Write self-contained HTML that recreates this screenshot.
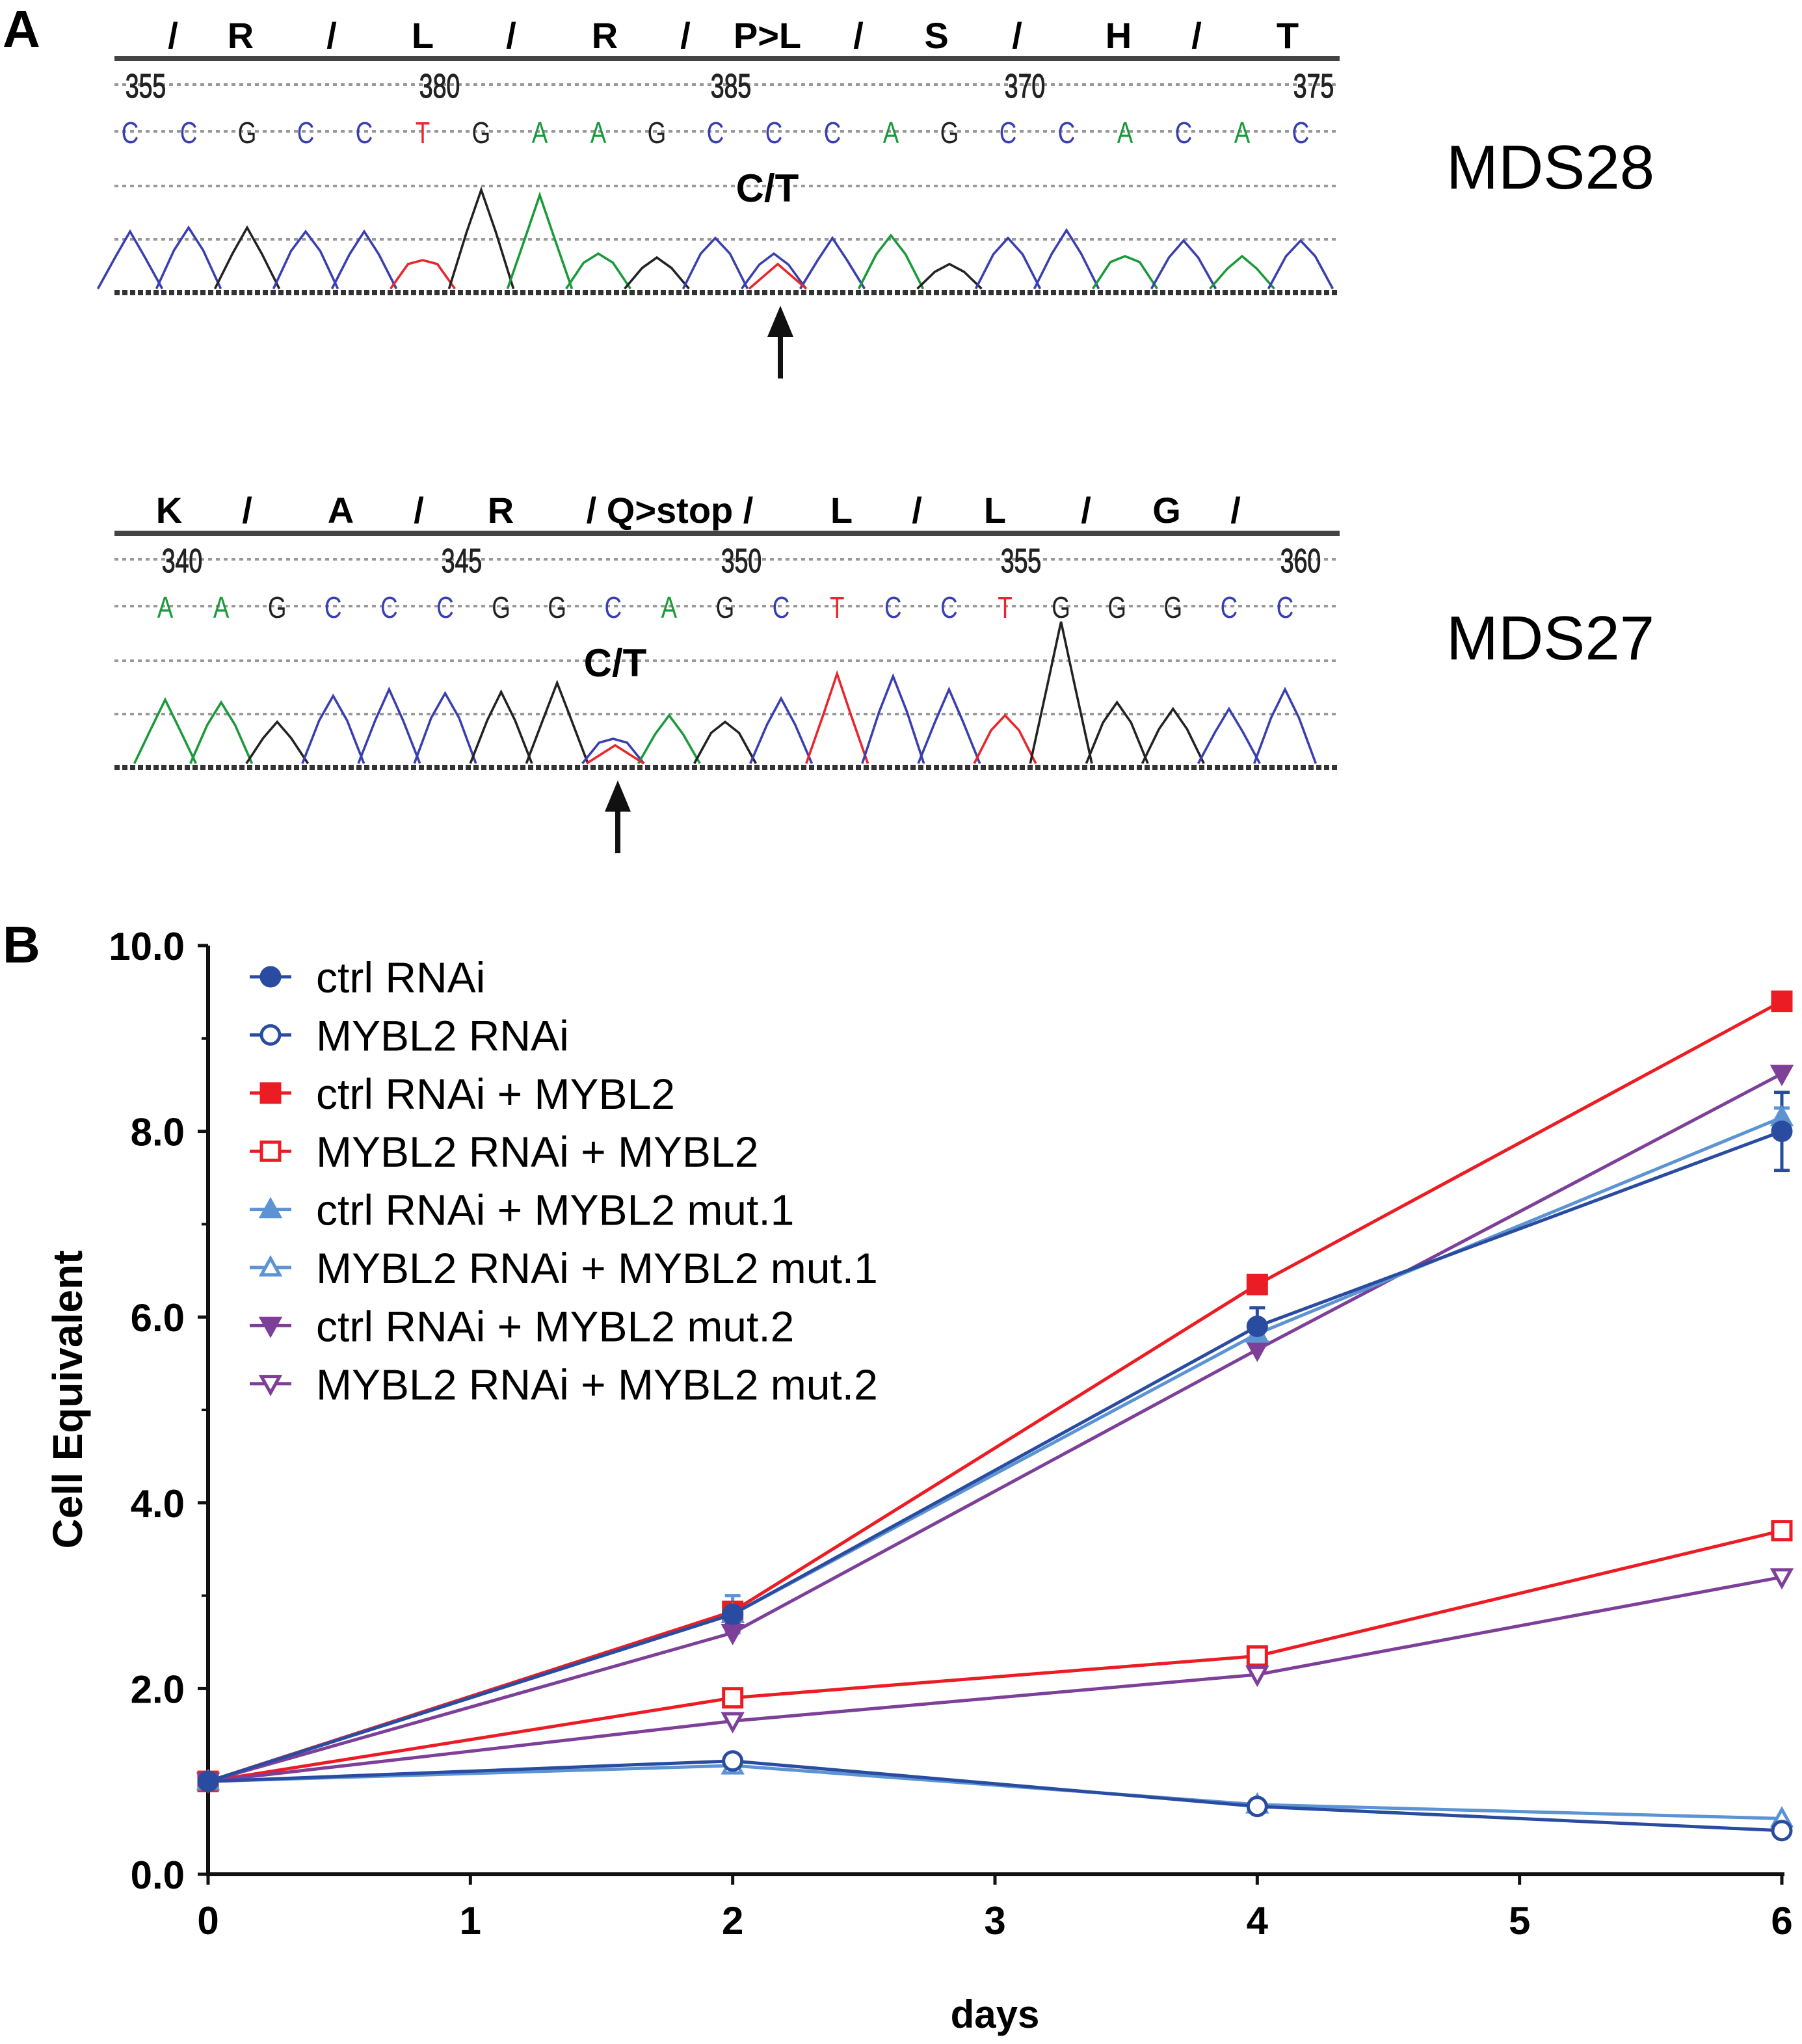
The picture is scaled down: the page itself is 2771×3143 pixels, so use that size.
<!DOCTYPE html>
<html><head><meta charset="utf-8"><style>
html,body{margin:0;padding:0;background:#fff;}
svg{display:block;font-family:"Liberation Sans",Arial,sans-serif;}
</style></head><body>
<svg id="fig" width="2771" height="3143" viewBox="0 0 1385.5 1571.5" xmlns="http://www.w3.org/2000/svg">
<g id="panelA">
 <text x="2" y="36" font-size="40" font-weight="bold">A</text>
 <g id="mds28"></g>
 <g id="mds27"></g>
 <text x="1112" y="145" font-size="48">MDS28</text>
 <text x="1112" y="507" font-size="48">MDS27</text>
</g>
<g id="panelB">
 <text x="2" y="740" font-size="40" font-weight="bold">B</text>
 <g id="axes"></g>
 <g id="series"></g>
 <g id="legend"></g>
 <text transform="translate(63,1076) rotate(-90)" text-anchor="middle" font-size="32" font-weight="bold">Cell Equivalent</text>
 <text x="765" y="1559" text-anchor="middle" font-size="30" font-weight="bold">days</text>
</g>
</svg>
<script>
const NS="http://www.w3.org/2000/svg";
function mk(tag,attrs,parent){const e=document.createElementNS(NS,tag);for(const k in attrs)e.setAttribute(k,attrs[k]);parent.appendChild(e);return e;}
const baseColor={A:"#1a9a3a",C:"#3a3fb0",G:"#222",T:"#e8262b"};

// ---------- Panel A chromatograms ----------
const aa28=[["/",133],["R",185],["/",255],["L",325],["/",393],["R",465],["/",527],["P>L",590],["/",660],["S",720],["/",782],["H",860],["/",920],["T",990]];
const num28=[["355",112],["380",338],["385",562],["370",788],["375",1010]];
const seq28="CCGCCTGAAGCCCAGCCACAC";
const peaks28=[178,175,175,178,178,200,146,150,195,198,183,195,183,181,203,183,177,197,185,197,185];
const aa27=[["K",130],["/",190],["A",262],["/",322],["R",385],["/ Q>stop /",515],["L",647],["/",705],["L",765],["/",835],["G",897],["/",950]];
const num27=[["340",140],["345",355],["350",570],["355",785],["360",1000]];
const seq27="AAGCCCGGCAGCTCCTGGGCC";
const peaks27=[538,540,555,535,530,533,532,525,568,550,555,537,518,520,530,550,478,540,545,545,530];

function chromo(g,o){
 const aaY=o.top, lineY=o.top+19, numY=o.top+39, baseY=o.top+75, d1=o.top+117, d2=o.top+158, bl=o.top+199;
 o.aa.forEach(a=>{const t=mk("text",{x:a[1],y:aaY+11,"text-anchor":"middle","font-size":28,"font-weight":"bold"},g);t.textContent=a[0];
  
  });
 mk("rect",{x:88,y:lineY-2,width:942,height:4,fill:"#444"},g);
 [numY,baseY,d1,d2].forEach(y=>mk("line",{x1:88,x2:1030,y1:y,y2:y,stroke:"#999","stroke-width":2,"stroke-dasharray":"3 3"},g));
 mk("line",{x1:88,x2:1030,y1:bl,y2:bl,stroke:"#333","stroke-width":4,"stroke-dasharray":"4 2"},g);
 o.num.forEach(n=>{const t=mk("text",{x:n[1],y:numY+10,"text-anchor":"middle","font-size":26,fill:"#222",stroke:"#222","stroke-width":0.6,transform:`translate(${n[1]},0) scale(0.72,1) translate(${-n[1]},0)`},g);t.textContent=n[0];
  
  });
 o.seq.split("").forEach((b,i)=>{const x=o.x0+i*o.dx;const t=mk("text",{x:x,y:baseY+9,"text-anchor":"middle","font-size":23,fill:baseColor[b],transform:`translate(${x},0) scale(0.8,1) translate(${-x},0)`},g);t.textContent=b;
  
  
  const py=o.peaks[i]; const vy=bl-8-((i*7)%12);
  mk("path",{d:`M${x-o.dx*0.55},${bl-3} L${x-o.dx*0.25},${(py+vy)/2} L${x},${py} L${x+o.dx*0.25},${(py+vy)/2} L${x+o.dx*0.55},${bl-3}`,fill:"none",stroke:baseColor[b],"stroke-width":1.8},g);
 });
 (o.het||[]).forEach(h=>{mk("path",{d:`M${h[0]-22},${bl-3} L${h[0]},${h[1]} L${h[0]+22},${bl-3}`,fill:"none",stroke:"#e8262b","stroke-width":1.8},g);});
 const ct=mk("text",{x:o.ctx,y:d1+12,"text-anchor":"middle","font-size":30,"font-weight":"bold"},g);ct.textContent="C/T";
 
 
 const ar=mk("g",{},g);
 
 
 mk("line",{x1:o.ax,x2:o.ax,y1:bl+30,y2:bl+66,stroke:"#111","stroke-width":4},ar);
 mk("path",{d:`M${o.ax-10},${bl+34} L${o.ax},${bl+10} L${o.ax+10},${bl+34} Z`,fill:"#111"},ar);
}
chromo(document.getElementById("mds28"),{top:26,aa:aa28,num:num28,seq:seq28,peaks:peaks28,x0:100,dx:45,ctx:590,ax:600,het:[[598,203]]});
chromo(document.getElementById("mds27"),{top:391,aa:aa27,num:num27,seq:seq27,peaks:peaks27,x0:127,dx:43.05,ctx:473,ax:475,het:[[473,573]]});

// ---------- Panel B chart data ----------
const days=[0,2,4,6];
const xTicks=[0,1,2,3,4,5,6];
const yTicks=[0,2,4,6,8,10];
const yTickLabels=["0.0","2.0","4.0","6.0","8.0","10.0"];
const names=["ctrl RNAi","MYBL2 RNAi","ctrl RNAi + MYBL2","MYBL2 RNAi + MYBL2","ctrl RNAi + MYBL2 mut.1","MYBL2 RNAi + MYBL2 mut.1","ctrl RNAi + MYBL2 mut.2","MYBL2 RNAi + MYBL2 mut.2"];
const ctrlRNAi=[1,2.8,5.9,8.0];
const mybl2RNAi=[1,1.22,0.73,0.47];
const ctrlMybl2=[1,2.83,6.35,9.4];
const mybl2Mybl2=[1,1.9,2.35,3.7];
const ctrlMut1=[1,2.8,5.82,8.15];
const mybl2Mut1=[1,1.17,0.75,0.6];
const ctrlMut2=[1,2.6,5.65,8.62];
const mybl2Mut2=[1,1.65,2.15,3.2];
const ctrlRNAiErr=[0,0.1,0.2,0.42];
const ctrlMut1Err=[0,0.2,0.1,0.1];

const X=d=>160+d*(1370-160)/6;
const Y=v=>1441-v*71.4;
const styles=[
 {c:"#2a4ca0",m:"circle",f:true},{c:"#2a4ca0",m:"circle",f:false},
 {c:"#ec1c24",m:"square",f:true},{c:"#ec1c24",m:"square",f:false},
 {c:"#5b93d3",m:"up",f:true},{c:"#5b93d3",m:"up",f:false},
 {c:"#7d3f98",m:"down",f:true},{c:"#7d3f98",m:"down",f:false}];
const allSeries=[ctrlRNAi,mybl2RNAi,ctrlMybl2,mybl2Mybl2,ctrlMut1,mybl2Mut1,ctrlMut2,mybl2Mut2];

function marker(p,s,x,y,r){
 const fill=s.f?s.c:"#fff", a={fill:fill,stroke:s.c,"stroke-width":2.5};
 if(s.m==="circle") return mk("circle",Object.assign({cx:x,cy:y,r:r},a),p);
 if(s.m==="square") return mk("rect",Object.assign({x:x-r,y:y-r,width:2*r,height:2*r},a),p);
 if(s.m==="up") return mk("path",Object.assign({d:`M${x-r},${y+r*0.8} L${x+r},${y+r*0.8} L${x},${y-r} Z`},a),p);
 return mk("path",Object.assign({d:`M${x-r},${y-r*0.8} L${x+r},${y-r*0.8} L${x},${y+r} Z`},a),p);
}

const ax=document.getElementById("axes");
mk("line",{x1:160,x2:160,y1:Y(10),y2:Y(0)+1.5,stroke:"#111","stroke-width":3},ax);
mk("line",{x1:158.5,x2:1372,y1:Y(0),y2:Y(0),stroke:"#111","stroke-width":3},ax);
yTicks.forEach((v,i)=>{
 mk("line",{x1:152,x2:160,y1:Y(v),y2:Y(v),stroke:"#111","stroke-width":2.5},ax);
 if(i<yTicks.length-1) mk("line",{x1:155,x2:160,y1:Y(v+1),y2:Y(v+1),stroke:"#111","stroke-width":2},ax);
 const t=mk("text",{x:142,y:Y(v)+11,"text-anchor":"end","font-size":30,"font-weight":"bold"},ax);t.textContent=yTickLabels[i];
 
 
});
xTicks.forEach(d=>{
 mk("line",{x1:X(d),x2:X(d),y1:Y(0),y2:Y(0)+8,stroke:"#111","stroke-width":2.5},ax);
 const t=mk("text",{x:X(d),y:1487,"text-anchor":"middle","font-size":30,"font-weight":"bold"},ax);t.textContent=String(d);
 
 
});

const sg=document.getElementById("series");
function errBars(vals,errs,c){
 vals.forEach((v,i)=>{if(!errs[i])return;const x=X(days[i]);
  const e=mk("path",{d:`M${x},${Y(v-errs[i])} L${x},${Y(v+errs[i])} M${x-6},${Y(v-errs[i])} L${x+6},${Y(v-errs[i])} M${x-6},${Y(v+errs[i])} L${x+6},${Y(v+errs[i])}`,stroke:c,"stroke-width":2.5,fill:"none"},sg);
  
  
 });
}
errBars(ctrlMut1,ctrlMut1Err,"#5b93d3");
errBars(ctrlRNAi,ctrlRNAiErr,"#2a4ca0");
const order=[3,7,2,6,5,1,4,0];
order.forEach(k=>{
 const s=styles[k], vals=allSeries[k];
 const g=mk("g",{},sg);
 
 
 const l=mk("polyline",{points:vals.map((v,i)=>X(days[i])+","+Y(v)).join(" "),fill:"none",stroke:s.c,"stroke-width":2.5},g);
 
 
 vals.forEach((v,i)=>{const m=marker(g,s,X(days[i]),Y(v),7);
  
  });
});

const lg=document.getElementById("legend");
names.forEach((n,i)=>{
 const y=751+i*44.7, s=styles[i];
 const g=mk("g",{},lg);
 
 
 mk("line",{x1:192,x2:224,y1:y,y2:y,stroke:s.c,"stroke-width":2.5},g);
 marker(g,s,208,y,7);
 const t=mk("text",{x:243,y:y+12,"font-size":33},g);t.textContent=n;
});
</script>
</body></html>
